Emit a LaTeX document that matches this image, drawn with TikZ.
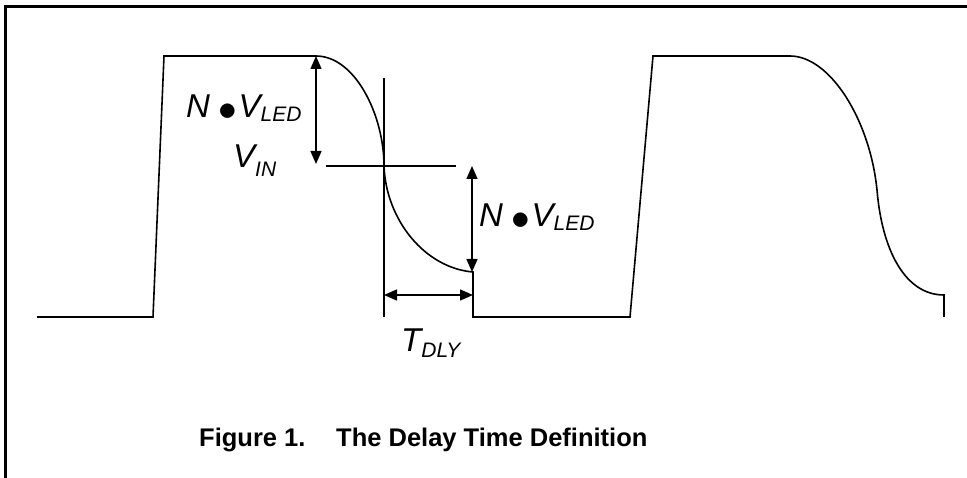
\documentclass[tikz,border=0pt]{standalone}
\usepackage{fontspec}
\setmainfont{Liberation Sans}
\usetikzlibrary{arrows.meta}

\tikzset{
  wave/.style={line width=1.6pt, line join=miter},
  guide/.style={line width=1.5pt},
  dimarrow/.style={line width=1.5pt, {Triangle[length=13pt,width=11pt]}-{Triangle[length=13pt,width=11pt]}},
  lbl/.style={anchor=base west, inner sep=0pt, font=\fontsize{33}{33}\selectfont\itshape},
  captxt/.style={anchor=base west, inner sep=0pt, font=\fontsize{25.5}{25.5}\selectfont\bfseries},
}
\newcommand{\lowsub}[2]{\raisebox{-#1}{\fontsize{21}{21}\selectfont #2}}
\newcommand{\bigdot}{\raisebox{-3pt}{\scalebox{1.5}{$\bullet$}}}

\begin{document}
\begin{tikzpicture}[x=1pt, y=-1pt]
      \useasboundingbox (0,0) rectangle (967,478);

      % Frame
      \draw[line width=3pt] (5,480) -- (5,7) -- (970,7);

      % Waveform points
      \coordinate (lowA) at (37,317);
      \coordinate (riseA) at (153,317);
      \coordinate (topA) at (164,56);
      \coordinate (fallA) at (316,56);
      \coordinate (vin) at (384,166);
      \coordinate (endA) at (473,272);
      \coordinate (footA) at (473,317);
      \coordinate (riseB) at (630,317);
      \coordinate (topB) at (653,56);
      \coordinate (fallB) at (790,56);
      \coordinate (midB) at (877,190);
      \coordinate (endB) at (944,295);
      \coordinate (footB) at (944,317);

      % Draw waveform
      \draw[wave] (lowA) -- (riseA) -- (topA) -- (fallA)
        .. controls (355,56) and (384,115) .. (vin)
        .. controls (386,220) and (425,268) .. (endA)
        -- (footA) -- (riseB) -- (topB) -- (fallB)
        .. controls (830,56) and (870,120) .. (midB)
        .. controls (882,250) and (905,295) .. (endB)
        -- (footB);

      % Guide lines through V_IN
      \coordinate (vtop) at (384,78);
      \coordinate (vbot) at (384,317);
      \coordinate (hleft) at (326,166);
      \coordinate (hright) at (456,166);
      \draw[guide] (vtop) -- (vbot);
      \draw[guide] (hleft) -- (hright);

      % Dimension arrows
      \coordinate (dimLtop) at (316,56);
      \coordinate (dimLbot) at (316,164);
      \coordinate (dimRtop) at (472,166);
      \coordinate (dimRbot) at (472,272);
      \coordinate (dlyL) at (384,295);
      \coordinate (dlyR) at (473,295);
      \draw[dimarrow] (dimLtop) -- (dimLbot);
      \draw[dimarrow] (dimRtop) -- (dimRbot);
      \draw[dimarrow] (dlyL) -- (dlyR);

      % Labels
      \node[lbl] (nvleft) at (186,118) {N\kern8pt\bigdot\kern2pt V\lowsub{4pt}{LED}};
      \node[lbl] (vinlbl) at (233,168) {V\lowsub{9pt}{IN}};
      \node[lbl] (nvright) at (479,227) {N\kern8pt\bigdot\kern2pt V\lowsub{4pt}{LED}};
      \node[lbl] (tdly) at (401,352) {T\lowsub{6pt}{DLY}};

      % Caption
      \node[captxt] (capnum) at (199,446) {Figure 1.};
      \node[captxt] (captitle) at (336,446) {The Delay Time Definition};
\end{tikzpicture}
\end{document}
